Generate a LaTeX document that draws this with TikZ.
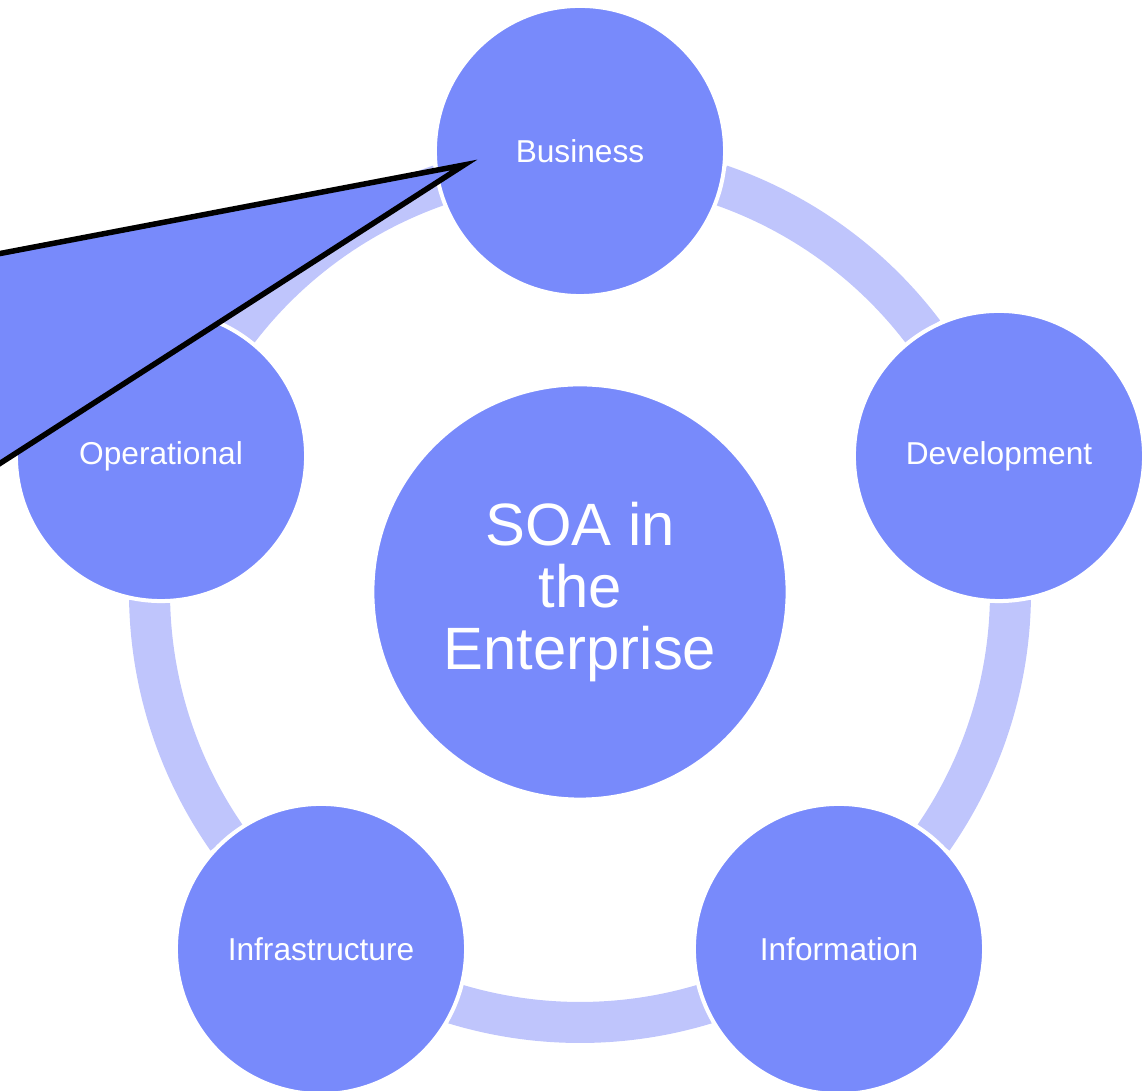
\documentclass[tikz,border=0pt]{standalone}
\usepackage{fontspec}
\setmainfont{Liberation Sans}
\usepackage{tikz}
\usetikzlibrary{backgrounds, calc}
\definecolor{circblue}{RGB}{120,138,251}
\definecolor{ringblue}{RGB}{191,197,252}
\tikzset{
  outercirc/.style={circle, fill=circblue, draw=white, line width=0.04cm, minimum size=2.9cm, inner sep=0pt, text=white, font=\fontsize{9}{11}\selectfont},
  centercirc/.style={outercirc, minimum size=4.15cm, align=center, font=\fontsize{17}{17.7}\selectfont},
  ringarc/.style={draw=ringblue, line width=0.41cm}
}

\begin{document}
\begin{tikzpicture}[x=0.01cm, y=0.01cm]

        \useasboundingbox (0,0) rectangle (1144,1091);
        \clip (0,0) rectangle (1144,1091);

        % Vẽ vòng tròn trung tâm
        \node[centercirc] (soa) at (580,499) {SOA in\\the\\Enterprise};

        % Vẽ năm vòng tròn xung quanh
        \node[outercirc] (business) at (580,940) {Business}; % Business
        \node[outercirc] (development) at (999,635) {Development}; % Development
        \node[outercirc] (information) at (839,142) {Information}; % Information
        \node[outercirc] (infrastructure) at (321,142) {Infrastructure}; % Infrastructure
        \node[outercirc] (operational) at (161,635) {Operational}; % Operational

        % Vẽ các cung nối (nằm dưới các vòng tròn)
        \begin{scope}[on background layer]
        \draw[ringarc] ([shift={(71:430.5)}]soa.center) arc[start angle=71, end angle=37, radius=430.5]; % business - development
        \draw[ringarc] ([shift={(-1:430.5)}]soa.center) arc[start angle=-1, end angle=-35, radius=430.5]; % development - information
        \draw[ringarc] ([shift={(-73:430.5)}]soa.center) arc[start angle=-73, end angle=-107, radius=430.5]; % information - infrastructure
        \draw[ringarc] ([shift={(215:430.5)}]soa.center) arc[start angle=215, end angle=181, radius=430.5]; % infrastructure - operational
        \draw[ringarc] ([shift={(143:430.5)}]soa.center) arc[start angle=143, end angle=109, radius=430.5]; % operational - business
        \end{scope}

        % Vẽ chú thích
        \coordinate (tip) at (464,926);
        \filldraw[fill=circblue, draw=black, line width=0.055cm] (-60,826) -- (tip) -- (-60,589) -- cycle; % Chú thích

\end{tikzpicture}
\end{document}
